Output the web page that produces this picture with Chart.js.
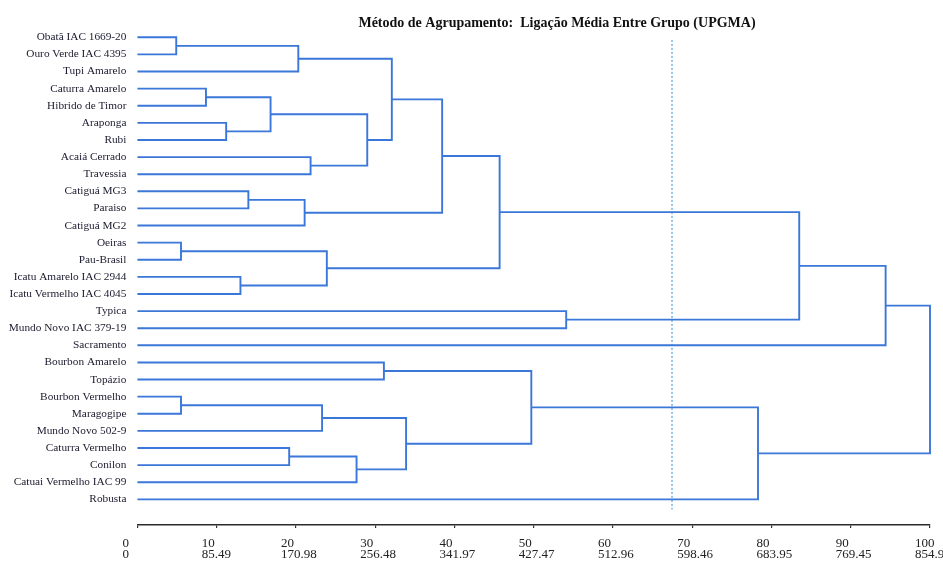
<!DOCTYPE html>
<html>
<head>
<meta charset="utf-8">
<script src="https://cdn.jsdelivr.net/npm/chart.js@4.4.1/dist/chart.umd.min.js"></script>
<style>
  html, body { margin: 0; padding: 0; background: #ffffff; }
  #wrap { width: 943px; height: 568px; }
</style>
</head>
<body>
<div id="wrap"><canvas id="c" width="943" height="568"></canvas></div>
<script>
// ---- data -----------------------------------------------------------
const chartTitle = 'Método de Agrupamento:  Ligação Média Entre Grupo (UPGMA)';

// leaves, top to bottom
const leaves = [
  'Obatã IAC 1669-20', 'Ouro Verde IAC 4395', 'Tupi Amarelo',
  'Caturra Amarelo', 'Hibrido de Timor', 'Araponga', 'Rubi',
  'Acaiá Cerrado', 'Travessia', 'Catiguá MG3', 'Paraiso', 'Catiguá MG2',
  'Oeiras', 'Pau-Brasil', 'Icatu Amarelo IAC 2944', 'Icatu Vermelho IAC 4045',
  'Typica', 'Mundo Novo IAC 379-19', 'Sacramento', 'Bourbon Amarelo',
  'Topázio', 'Bourbon Vermelho', 'Maragogipe', 'Mundo Novo 502-9',
  'Caturra Vermelho', 'Conilon', 'Catuai Vermelho IAC 99', 'Robusta'
];

// merges: [child A, child B, linkage distance (%)]; new node ids start at leaves.length
const mergeA = [0, 28, 3, 5, 30, 7, 32, 29, 9, 36, 35, 12, 14, 39, 38, 16, 42, 44, 19, 21, 47, 24, 49, 48, 46, 52, 45];
const mergeB = [1, 2, 4, 6, 31, 8, 33, 34, 10, 11, 37, 13, 15, 40, 41, 17, 43, 18, 20, 22, 23, 25, 26, 50, 51, 27, 53];
const mergeH = [4.9, 20.3, 8.65, 11.2, 16.8, 21.85, 29.0, 32.1, 14.0, 21.1, 38.45, 5.5, 13.0, 23.9, 45.7, 54.1, 83.5, 94.4, 31.1, 5.5, 23.3, 19.15, 27.65, 33.9, 49.7, 78.3, 100];

// cut line
const cutValue = 67.45;
const cutFrom = 0.15;
const cutTo = 27.6;

// x axis tick labels
const tickPct = [0, 10, 20, 30, 40, 50, 60, 70, 80, 90, 100];
const tickDist = ['0', '85.49', '170.98', '256.48', '341.97', '427.47', '512.96', '598.46', '683.95', '769.45', '854.94'];

// ---- build -----------------------------------------------------------
const LINE = '#3b77d8';
const nodes = leaves.map((_, i) => ({ x: 0, y: i }));
const datasets = [];
mergeA.forEach((a, k) => {
  const A = nodes[a], B = nodes[mergeB[k]], h = mergeH[k];
  nodes.push({ x: h, y: (A.y + B.y) / 2 });
  datasets.push({
    data: [{ x: A.x, y: A.y }, { x: h, y: A.y }, { x: h, y: B.y }, { x: B.x, y: B.y }],
    borderColor: LINE, borderWidth: 1.9, pointRadius: 0, showLine: true,
    fill: false, tension: 0, clip: false, borderJoinStyle: 'miter'
  });
});
datasets.push({
  data: [{ x: cutValue, y: cutFrom }, { x: cutValue, y: cutTo }],
  borderColor: '#2f8ad6', borderWidth: 1, borderDash: [2, 2],
  pointRadius: 0, showLine: true, clip: false
});

const titlePlugin = {
  id: 'titleText',
  afterDraw(chart) {
    const ctx = chart.ctx;
    ctx.save();
    ctx.font = 'bold 14px "Liberation Serif", "Times New Roman", serif';
    ctx.fillStyle = '#111111';
    ctx.textAlign = 'center';
    ctx.textBaseline = 'alphabetic';
    ctx.fillText(chartTitle, 557, 27);
    ctx.restore();
  }
};

Chart.defaults.font.family = '"Liberation Serif", "Times New Roman", serif';

new Chart(document.getElementById('c'), {
  type: 'scatter',
  data: { datasets },
  options: {
    responsive: false,
    animation: false,
    events: [],
    layout: { padding: { left: 0, right: 13, top: 10, bottom: 0 } },
    plugins: { legend: { display: false }, tooltip: { enabled: false }, title: { display: false } },
    scales: {
      x: {
        type: 'linear', position: 'bottom', min: 0, max: 100,
        afterBuildTicks: s => { s.ticks = tickPct.map(v => ({ value: v })); },
        afterFit: s => { s.height = 43; s.paddingLeft = 0; s.paddingRight = 0; },
        grid: { display: true, drawOnChartArea: false, drawTicks: true, tickLength: 3, color: '#333333', lineWidth: 1.2 },
        border: { display: true, color: '#2a2a2a', width: 1.6 },
        ticks: {
          align: 'start', labelOffset: -15, padding: 10.5, autoSkip: false, maxRotation: 0,
          color: '#222222',
          font: { size: 13, lineHeight: 0.82 },
          callback: v => { const i = tickPct.indexOf(v); return i < 0 ? '' : [String(tickPct[i]), tickDist[i]]; }
        }
      },
      y: {
        type: 'linear', position: 'left', reverse: true, min: -1.595, max: 28.5,
        afterBuildTicks: s => { s.ticks = leaves.map((_, i) => ({ value: i })); },
        afterFit: s => { s.width = 137.4; s.paddingTop = 0; s.paddingBottom = 0; },
        grid: { display: false, drawTicks: false },
        border: { display: false },
        ticks: {
          autoSkip: false, padding: 11, color: '#1a1a2e',
          font: { size: 11.3 },
          callback: v => leaves[v] !== undefined ? leaves[v] : ''
        }
      }
    }
  },
  plugins: [titlePlugin]
});
</script>
</body>
</html>
